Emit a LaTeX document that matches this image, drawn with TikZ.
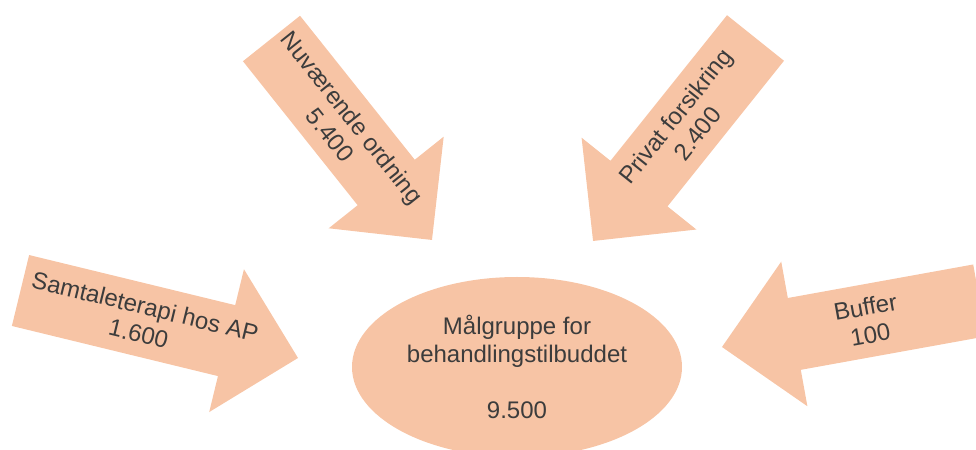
\documentclass[tikz,border=0pt]{standalone}
\usepackage{fontspec}
\setmainfont{Liberation Sans}
\usepackage{xcolor}
\usepackage{tikz}
\usetikzlibrary{shapes.geometric}

\definecolor{fersken}{HTML}{F7C4A5}
\definecolor{tekstgraa}{HTML}{3C3C3C}

\begin{document}
\begin{tikzpicture}[
x=0.75pt, y=0.75pt,
pil/.style={fill=fersken},
pilnavn/.style={align=center, inner sep=0pt, text=tekstgraa, transform shape,
  font=\fontsize{18pt}{21pt}\selectfont},
maal/.style={ellipse, fill=fersken, inner sep=0pt, minimum width=247.5pt, minimum height=135pt,
  align=center, text=tekstgraa, font=\fontsize{18pt}{21pt}\selectfont},
]
\useasboundingbox (0,0) rectangle (976,450);
\clip (0,0) rectangle (976,450);

% ovenfra venstre
\begin{scope}[shift={(271.5,411.5)}, rotate=-51.46]
\fill[pil] (0,36.5) -- (184.1,36.5) -- (184.1,73.5) -- (257.6,0) -- (184.1,-73.5) -- (184.1,-36.5) -- (0,-36.5) -- cycle;
\node[pilnavn] (nuvaerende) at (112,0) {Nuværende ordning\\5.400};
\end{scope}

% ovenfra hoyre
\begin{scope}[shift={(755.5,412)}, rotate=231.33]
\fill[pil] (0,36.5) -- (186.5,36.5) -- (186.5,73.5) -- (260,0) -- (186.5,-73.5) -- (186.5,-36.5) -- (0,-36.5) -- cycle;
\node[pilnavn, rotate=180] (privat) at (111,0) {Privat forsikring\\2.400};
\end{scope}

% fra venstre
\begin{scope}[shift={(20.5,159.5)}, rotate=-13.67]
\fill[pil] (0,36.5) -- (212.1,36.5) -- (212.1,73.5) -- (285.6,0) -- (212.1,-73.5) -- (212.1,-36.5) -- (0,-36.5) -- cycle;
\node[pilnavn] (samtale) at (125,0) {Samtaleterapi hos AP\\1.600};
\end{scope}

% fra hoyre
\begin{scope}[shift={(979.7,149.6)}, rotate=190.25]
\fill[pil] (0,36.5) -- (188.4,36.5) -- (188.4,73.5) -- (261.9,0) -- (188.4,-73.5) -- (188.4,-36.5) -- (0,-36.5) -- cycle;
\node[pilnavn, rotate=180] (buffer) at (113.7,0) {Buffer\\100};
\end{scope}

\node[maal] (maalgruppe) at (517,83) {Målgruppe for\\behandlingstilbuddet\\[21pt]9.500};

\end{tikzpicture}
\end{document}
